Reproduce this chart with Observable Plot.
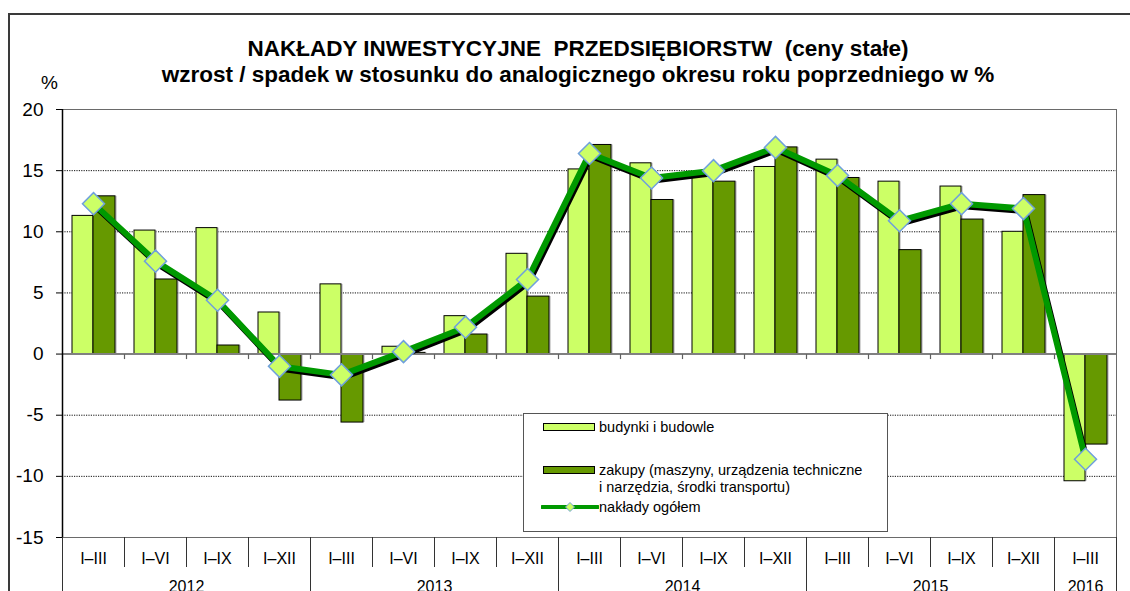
<!DOCTYPE html>
<html lang="pl">
<head>
<meta charset="utf-8">
<script src="https://cdn.jsdelivr.net/npm/d3@7"></script>
<script src="https://cdn.jsdelivr.net/npm/@observablehq/plot@0.6"></script>
<style>
  html, body { margin: 0; padding: 0; background: #fff; }
  body { font-family: "Liberation Sans", Arial, sans-serif; color: #000; }
  #wrap { position: relative; width: 1130px; height: 591px; overflow: hidden; }
  #outer { position: absolute; left: 8px; top: 13px; width: 1200px; height: 700px;
           border-left: 2px solid #3a3a3a; border-top: 2px solid #3a3a3a; box-sizing: border-box; }
  #chart { position: absolute; left: 0; top: 0; }
  .title { position: absolute; left: 0; width: 1156px; text-align: center; font-weight: bold;
           font-size: 22.5px; line-height: 22.5px; white-space: pre; }
  #unit { position: absolute; left: 41px; top: 73px; font-size: 19px; line-height: 20px; }
  #legend { position: absolute; left: 523px; top: 413px; width: 365px; height: 119px; box-sizing: border-box;
            background: #fff; border: 1px solid #555; font-size: 14.5px; }
  #legend .sw { position: absolute; left: 19px; width: 52px; height: 8px; box-sizing: border-box; border: 1px solid #000; }
  #legend .tx { position: absolute; left: 75px; line-height: 16px; white-space: nowrap; }
  #legend svg { position: absolute; left: 17px; top: 86px; }
</style>
</head>
<body>
<div id="wrap">
  <div id="outer"></div>
  <div id="chart"></div>
  <div class="title" style="top:38px">NAKŁADY INWESTYCYJNE  PRZEDSIĘBIORSTW  (ceny stałe)</div>
  <div class="title" style="top:64px">wzrost / spadek w stosunku do analogicznego okresu roku poprzedniego w %</div>
  <div id="unit">%</div>
  <div id="legend">
    <div class="sw" style="top:9px;background:#ccff66"></div>
    <div class="tx" style="top:5px">budynki i budowle</div>
    <div class="sw" style="top:52px;background:#669900"></div>
    <div class="tx" style="top:48px">zakupy (maszyny, urządzenia techniczne</div>
    <div class="tx" style="top:65px">i narzędzia, środki transportu)</div>
    <svg width="58" height="14" viewBox="0 0 58 14">
      <line x1="1" y1="7" x2="57" y2="7" stroke="#009900" stroke-width="4" stroke-linecap="round"/>
      <path d="M29,2.5 L33.5,7 L29,11.5 L24.5,7 Z" fill="#ccff66" stroke="#6fa0dc" stroke-width="1"/>
    </svg>
    <div class="tx" style="top:85px">nakłady ogółem</div>
  </div>
</div>
<script>
// Okresy narastające (kwartały) i lata
const periods = ["I–III", "I–VI", "I–IX", "I–XII",
                 "I–III", "I–VI", "I–IX", "I–XII",
                 "I–III", "I–VI", "I–IX", "I–XII",
                 "I–III", "I–VI", "I–IX", "I–XII",
                 "I–III"];
const years = ["2012", "2013", "2014", "2015", "2016"];
const periodsPerYear = [4, 4, 4, 4, 1];

// Dynamika nakładów, % r/r (ceny stałe)
const budynki = [11.3, 10.1, 10.3, 3.4, 5.7, 0.6, 3.1, 8.2, 15.1, 15.6, 14.6, 15.3, 15.9, 14.1, 13.7, 10.0, -10.4];
const zakupy  = [12.9, 6.1, 0.7, -3.8, -5.6, 0.1, 1.6, 4.7, 17.1, 12.6, 14.1, 16.9, 14.4, 8.5, 11.0, 13.0, -7.4];
const ogolem  = [12.3, 7.6, 4.4, -1.0, -1.7, 0.2, 2.2, 6.1, 16.4, 14.4, 15.0, 16.9, 14.6, 10.9, 12.3, 11.9, -8.6];

const yTicks = [-15, -10, -5, 0, 5, 10, 15, 20];

const rows = periods.map((p, i) => ({i, period: p, budynki: budynki[i], zakupy: zakupy[i], ogolem: ogolem[i]}));

// granice lat i środki etykiet lat na osi kategorii
const yearBounds = [-0.5];
const yearMids = [];
let start = 0;
periodsPerYear.forEach(n => {
  yearMids.push(start + (n - 1) / 2);
  start += n;
  yearBounds.push(start - 0.5);
});
const yearLabel = new Map(yearMids.map((m, k) => [m, years[k]]));
const periodBounds = d3.range(0.5, periods.length - 0.5, 1);

// romb jako marker (kwadrat obrócony o 45°)
const rhombus = {
  draw(ctx, size) {
    const r = Math.sqrt(size / 2);
    ctx.moveTo(0, -r); ctx.lineTo(r, 0); ctx.lineTo(0, r); ctx.lineTo(-r, 0); ctx.closePath();
  }
};
// krótka kreska w dół od osi zera
const tickDown = {
  draw(ctx, size) {
    const l = Math.sqrt(size / Math.PI);
    ctx.moveTo(0, 0); ctx.lineTo(0, l);
  }
};

const font = "'Liberation Sans', Arial, sans-serif";

const chart = Plot.plot({
  width: 1130,
  height: 591,
  marginTop: 109,
  marginBottom: 54,
  marginLeft: 62,
  marginRight: 14,
  style: {background: "transparent", fontFamily: font, overflow: "hidden"},
  x: {type: "linear", domain: [-0.5, periods.length - 0.5], axis: null, label: null},
  y: {domain: [-15, 20], axis: null, label: null},
  marks: [
    Plot.ruleY(yTicks.filter(d => d !== 0), {stroke: "#111", strokeWidth: 1, strokeDasharray: "1.2,1.2"}),
    Plot.frame({stroke: "#6a6a6a", strokeWidth: 1}),
    // cienie słupków
    Plot.rect(rows, {x1: d => d.i - 0.5, x2: d => d.i, y1: 0, y2: "budynki", insetLeft: 10, dx: 2, fill: "#b8b8b8", fillOpacity: 0.6}),
    Plot.rect(rows, {x1: d => d.i, x2: d => d.i + 0.5, y1: 0, y2: "zakupy", insetRight: 9, dx: 2, fill: "#b8b8b8", fillOpacity: 0.6}),
    // słupki
    Plot.rect(rows, {x1: d => d.i - 0.5, x2: d => d.i, y1: 0, y2: "budynki", insetLeft: 10, fill: "#ccff66", stroke: "#000", strokeWidth: 1}),
    Plot.rect(rows, {x1: d => d.i, x2: d => d.i + 0.5, y1: 0, y2: "zakupy", insetRight: 9, fill: "#669900", stroke: "#000", strokeWidth: 1}),
    // oś zera z kreskami
    Plot.ruleY([0], {stroke: "#808080", strokeWidth: 2}),
    Plot.dot(periodBounds, {x: d => d, y: 0, symbol: tickDown, r: 5, stroke: "#606060", strokeWidth: 1.2}),
    Plot.ruleX([-0.5], {stroke: "#000", strokeWidth: 1.5}),
    // linia nakładów ogółem z cieniem
    Plot.line(rows, {x: "i", y: "ogolem", stroke: "#000", strokeWidth: 6, dx: 1.5, dy: 2.5, strokeLinejoin: "round"}),
    Plot.line(rows, {x: "i", y: "ogolem", stroke: "#009900", strokeWidth: 6, strokeLinejoin: "round"}),
    Plot.dot(rows, {x: "i", y: "ogolem", symbol: rhombus, r: 8.8, fill: "#ccff66", stroke: "#6fa0dc", strokeWidth: 1.5}),
    // oś Y
    Plot.axisY({ticks: yTicks, tickFormat: d => String(d), tickSize: 6, tickPadding: 13, fontSize: 19, fontFamily: font, label: null}),
    // oś kategorii: podziałki, okresy, lata
    Plot.axisX({ticks: periodBounds, tickFormat: () => "", tickSize: 30, stroke: "#333", strokeWidth: 1, label: null}),
    Plot.axisX({ticks: yearBounds, tickFormat: () => "", tickSize: 70, stroke: "#333", strokeWidth: 1, label: null}),
    Plot.axisX({ticks: d3.range(periods.length), tickFormat: i => periods[i], tickSize: 0, tickPadding: 15, fontSize: 16, fontFamily: font, label: null}),
    Plot.axisX({ticks: yearMids, tickFormat: m => yearLabel.get(m), tickSize: 0, tickPadding: 43, fontSize: 16, fontFamily: font, label: null})
  ]
});
document.getElementById("chart").appendChild(chart);
</script>
</body>
</html>
